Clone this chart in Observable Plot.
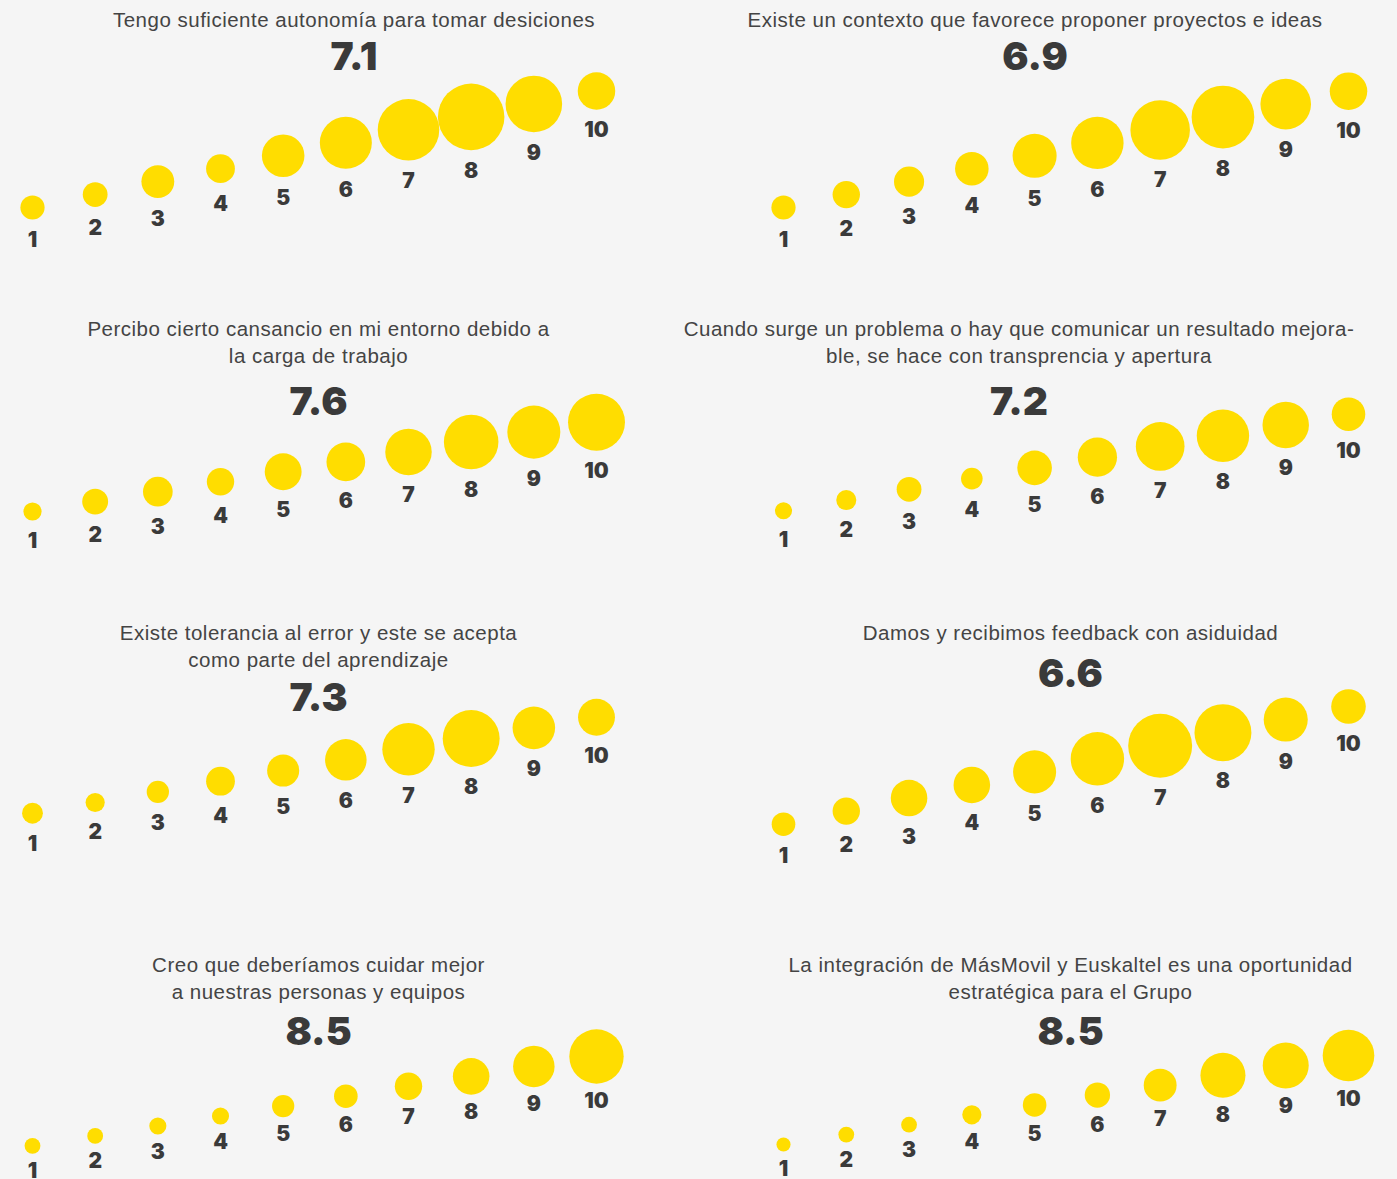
<!DOCTYPE html>
<html><head><meta charset="utf-8">
<script src="https://cdn.jsdelivr.net/npm/d3@7"></script>
<script src="https://cdn.jsdelivr.net/npm/@observablehq/plot@0.6"></script>
<style>
html,body{margin:0;padding:0;background:#f5f5f5;}
#root{position:relative;width:1397px;height:1179px;overflow:hidden;background:#f5f5f5;}
.title{position:absolute;width:900px;text-align:center;font-family:"Liberation Sans",Arial,sans-serif;font-size:20.5px;line-height:27px;color:#444;letter-spacing:0.5px;white-space:nowrap;}
.avg{position:absolute;width:400px;text-align:center;font-family:Inter,sans-serif;font-weight:900;font-size:39px;line-height:38px;color:#3a3a3a;letter-spacing:0px;}
.chart{position:absolute;}
</style></head><body><div id="root"></div>
<script>
// ---------- data ----------
const scores = [1, 2, 3, 4, 5, 6, 7, 8, 9, 10];
const questions = [
  ["Tengo suficiente autonomía para tomar desiciones"],
  ["Existe un contexto que favorece proponer proyectos e ideas"],
  ["Percibo cierto cansancio en mi entorno debido a", "la carga de trabajo"],
  ["Cuando surge un problema o hay que comunicar un resultado mejora-", "ble, se hace con transprencia y apertura"],
  ["Existe tolerancia al error y este se acepta", "como parte del aprendizaje"],
  ["Damos y recibimos feedback con asiduidad"],
  ["Creo que deberíamos cuidar mejor", "a nuestras personas y equipos"],
  ["La integración de MásMovil y Euskaltel es una oportunidad", "estratégica para el Grupo"]
];
const averages = [7.1, 6.9, 7.6, 7.2, 7.3, 6.6, 8.5, 8.5];
// responses per score (1..10)
const countsAutonomia   = [12, 13, 31, 21, 63, 105, 158, 190, 129, 45];
const countsContexto    = [12, 18, 24, 33, 69, 107, 146, 165, 98, 45];
const countsCansancio   = [4, 15, 23, 18, 43, 49, 79, 118, 110, 131];
const countsProblema    = [3, 6, 13, 8, 36, 51, 89, 107, 79, 33];
const countsTolerancia  = [7, 5, 9, 21, 29, 59, 107, 131, 63, 43];
const countsFeedback    = [11, 18, 42, 42, 65, 112, 173, 131, 69, 36];
const countsCuidar      = [2, 2, 3, 3, 9, 11, 18, 42, 59, 117];
const countsIntegracion = [1, 2, 2, 5, 11, 14, 31, 73, 77, 103];
const panelCounts = [countsAutonomia, countsContexto, countsCansancio, countsProblema,
                     countsTolerancia, countsFeedback, countsCuidar, countsIntegracion];

// ---------- layout (pixels) ----------
const columns = [
  {left: 0,   width: 700, xRange: [32, 596]},
  {left: 697, width: 700, xRange: [86, 651]}
];
const layout = [
  {col: 0, cx: 354,    titleCap: 11.7,  avgCap: 41.7,   top: 40,   height: 240, yRange: [167, 50.5],   gap: 21},
  {col: 1, cx: 1035,   titleCap: 11.7,  avgCap: 41.7,   top: 40,   height: 240, yRange: [167, 50.7],   gap: 21},
  {col: 0, cx: 318.5,  titleCap: 320.7, avgCap: 387.3,  top: 370,  height: 220, yRange: [141, 51.7],   gap: 20.5},
  {col: 1, cx: 1019,   titleCap: 320.7, avgCap: 387.3,  top: 370,  height: 220, yRange: [140.3, 43.7], gap: 20.5},
  {col: 0, cx: 318.5,  titleCap: 625,   avgCap: 683.3,  top: 670,  height: 210, yRange: [142.7, 46.7], gap: 20.5},
  {col: 1, cx: 1070.5, titleCap: 625,   avgCap: 659.3,  top: 670,  height: 210, yRange: [153.7, 36],   gap: 20.5},
  {col: 0, cx: 318.5,  titleCap: 957.3, avgCap: 1017.3, top: 1000, height: 200, yRange: [145.3, 56],   gap: 17.5},
  {col: 1, cx: 1070.5, titleCap: 957.3, avgCap: 1017.3, top: 1000, height: 200, yRange: [144, 55],     gap: 17.5}
];
const yellow = "#FFDD00";
const dark = "#3a3a3a";
const rDomain = [0, 200], rRange = [5, 34];
const rScale = d3.scaleSqrt().domain(rDomain).range(rRange);

const root = document.getElementById("root");

layout.forEach((L, i) => {
  const C = columns[L.col];
  const data = scores.map((s, k) => ({score: s, count: panelCounts[i][k]}));
  const step = (L.yRange[0] - L.yRange[1]) / (scores.length - 1);
  const chart = Plot.plot({
    width: C.width,
    height: L.height,
    margin: 0,
    x: {domain: [1, 10], range: C.xRange, axis: null},
    y: {domain: [1, 10], range: L.yRange, axis: null},
    r: {type: "sqrt", domain: rDomain, range: rRange},
    style: {background: "transparent", overflow: "visible"},
    marks: [
      Plot.dot(data, {x: "score", y: "score", r: "count", fill: yellow, stroke: "none"}),
      Plot.text(data, {
        x: "score",
        y: d => d.score - (rScale(d.count) + L.gap) / step,
        text: d => String(d.score),
        fontSize: 21, fontWeight: 900, fontFamily: "Inter, sans-serif",
        fill: dark, lineAnchor: "middle"
      })
    ]
  });
  chart.classList.add("chart");
  chart.style.left = C.left + "px";
  chart.style.top = L.top + "px";
  root.appendChild(chart);
});

layout.forEach((L, i) => {
  const t = document.createElement("div");
  t.className = "title";
  t.style.left = (L.cx - 450) + "px";
  t.style.top = (L.titleCap - 6) + "px";
  t.innerHTML = questions[i].join("<br>");
  root.appendChild(t);
  const a = document.createElement("div");
  a.className = "avg";
  a.style.left = (L.cx - 200) + "px";
  a.style.top = (L.avgCap - 5) + "px";
  a.textContent = averages[i].toFixed(1);
  root.appendChild(a);
});
</script>
</body></html>
